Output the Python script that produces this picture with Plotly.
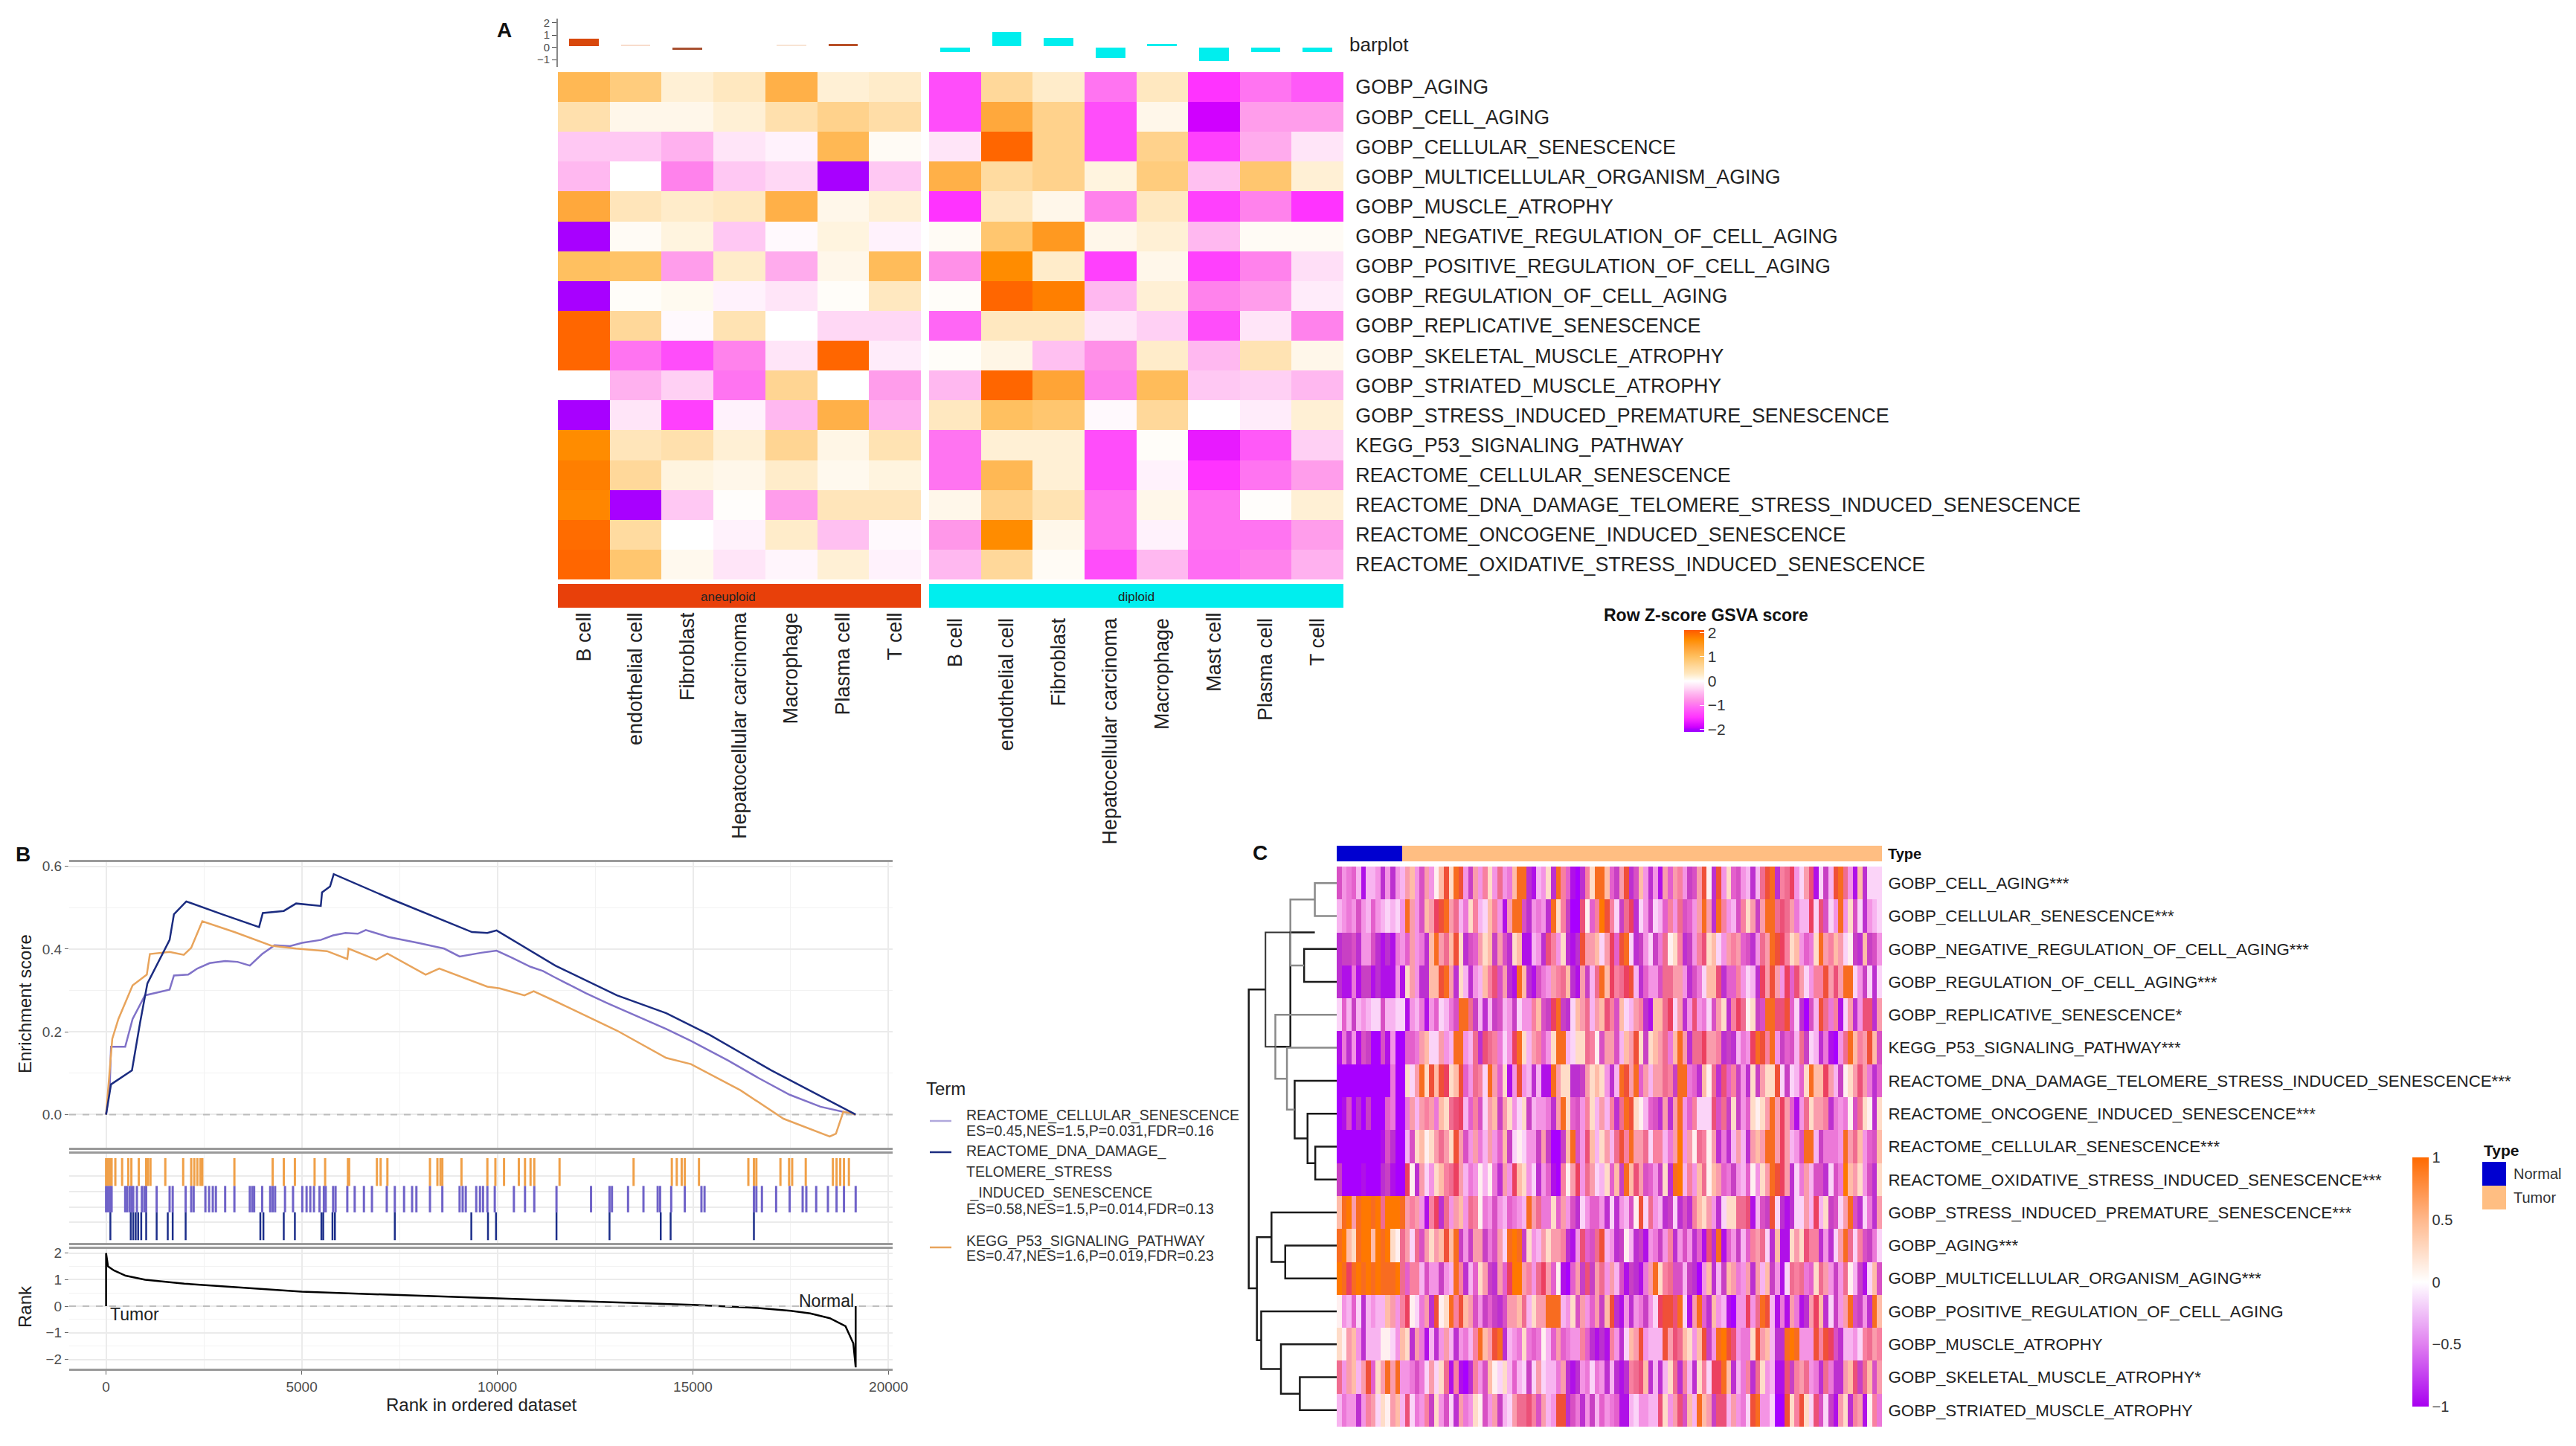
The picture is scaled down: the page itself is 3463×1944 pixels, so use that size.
import plotly.graph_objects as go

W, H = 3463, 1944
FONT = "Liberation Sans"

# ---------- Panel A data ----------
cells_aneu = ["B cell", "endothelial cell", "Fibroblast", "Hepatocellular carcinoma", "Macrophage", "Plasma cell", "T cell"]
cells_dip = ["B cell ", "endothelial cell ", "Fibroblast ", "Hepatocellular carcinoma ", "Macrophage ", "Mast cell", "Plasma cell ", "T cell "]
terms_a = ["GOBP_AGING", "GOBP_CELL_AGING", "GOBP_CELLULAR_SENESCENCE", "GOBP_MULTICELLULAR_ORGANISM_AGING",
           "GOBP_MUSCLE_ATROPHY", "GOBP_NEGATIVE_REGULATION_OF_CELL_AGING", "GOBP_POSITIVE_REGULATION_OF_CELL_AGING",
           "GOBP_REGULATION_OF_CELL_AGING", "GOBP_REPLICATIVE_SENESCENCE", "GOBP_SKELETAL_MUSCLE_ATROPHY",
           "GOBP_STRIATED_MUSCLE_ATROPHY", "GOBP_STRESS_INDUCED_PREMATURE_SENESCENCE", "KEGG_P53_SIGNALING_PATHWAY",
           "REACTOME_CELLULAR_SENESCENCE", "REACTOME_DNA_DAMAGE_TELOMERE_STRESS_INDUCED_SENESCENCE",
           "REACTOME_ONCOGENE_INDUCED_SENESCENCE", "REACTOME_OXIDATIVE_STRESS_INDUCED_SENESCENCE"]
z_aneu = [
    [1.1, .8, .2, .3, 1.2, .2, .25],
    [.45, .1, .1, .2, .45, .7, .5],
    [-.4, -.4, -.55, -.2, -.1, 1.1, .05],
    [-.5, 0, -.9, -.4, -.3, -2, -.4],
    [1.3, .35, .25, .3, 1.2, .1, .2],
    [-2, .05, .15, -.4, -.05, .15, -.1],
    [1, .95, -.7, .25, -.6, .1, 1.05],
    [-2, .03, .07, -.1, -.2, .03, .3],
    [2, .6, -.05, .4, 0, -.3, -.3],
    [2, -1, -1.3, -.9, -.2, 2, -.15],
    [0, -.55, -.35, -1, .65, 0, -.7],
    [-2, -.2, -1.4, -.1, -.5, 1.2, -.55],
    [1.7, .35, .45, .2, .65, .12, .4],
    [1.8, .6, .15, .1, .25, .08, .15],
    [1.75, -2, -.4, .02, -.7, .35, .35],
    [1.95, .55, 0, -.1, .25, -.45, -.05],
    [2, .9, .08, -.2, -.08, .2, -.1],
]
z_dip = [
    [-1.3, .6, .25, -1, .3, -1.5, -1, -1.2],
    [-1.3, 1.3, .7, -1.3, .1, -1.9, -.7, -.7],
    [-.2, 2, .7, -1.3, .7, -1.4, -.6, -.2],
    [1.2, .55, .7, .15, .8, -.45, .9, .2],
    [-1.5, .3, .1, -.9, .3, -1.4, -.9, -1.5],
    [.05, .9, 1.5, .1, .2, -.5, .05, .05],
    [-.8, 1.7, .25, -1.4, .1, -1.4, -.9, -.25],
    [.03, 2, 1.8, -.5, .2, -.9, -.7, -.15],
    [-1.1, .3, .3, -.2, -.35, -1.3, -.2, -.9],
    [.03, .12, -.45, -.8, .25, -.5, .4, .1],
    [-.5, 2, 1.35, -.9, 1.05, -.4, -.35, -.5],
    [.3, 1, .9, -.05, .6, 0, -.15, .2],
    [-1, .2, .2, -1.3, .03, -1.7, -1.2, -.35],
    [-1, 1.1, .2, -1.3, -.1, -1.5, -1, -.7],
    [.1, .7, .4, -1, .1, -1, .02, .2],
    [-.75, 1.7, .1, -1, -.1, -1, -1, -.7],
    [-.5, .6, .05, -1.3, -.5, -1.05, -.9, -.55],
]
bar_aneu_low = [.09, .1, -.2, 0, .1, .1, 0]
bar_aneu_span = [.63, .1, .17, 0, .1, .15, 0]
bar_aneu_col = ["#D8480C", "#F8DCCC", "#A85030", "#FFFFFF", "#F8E4D4", "#B85028", "#FFFFFF"]
bar_dip_low = [-.4, .1, .1, -.88, .12, -1.1, -.4, -.4]
bar_dip_span = [.4, 1.15, .68, .88, .13, 1.1, .4, .4]

# ---------- Panel B data ----------
purple_rank = [0, 95, 126, 489, 678, 994, 1624, 1735, 2097, 2334, 2649, 3044, 3359, 3674, 3990, 4305, 4700, 5015, 5488, 5803, 6119, 6434, 6639, 7223, 8011, 8642, 9036, 9588, 9982, 10377, 10850, 11165, 11481, 12269, 12821, 13531, 14319, 14950, 15896, 16685, 17473, 18262, 19160]
purple_es = [0, .069, .164, .164, .231, .288, .302, .336, .338, .353, .366, .371, .369, .36, .388, .409, .407, .415, .422, .433, .439, .437, .446, .429, .414, .401, .382, .391, .396, .379, .357, .347, .331, .293, .269, .24, .207, .178, .131, .088, .048, .019, 0]
navy_rank = [0, 63, 126, 662, 867, 1056, 1451, 1624, 1735, 2050, 2964, 3911, 4006, 4542, 4857, 5488, 5520, 5725, 5819, 7381, 9352, 9746, 9982, 11481, 13058, 14319, 15423, 17000, 19160]
navy_es = [0, .04, .073, .107, .221, .317, .389, .422, .484, .515, .484, .453, .487, .492, .51, .504, .537, .551, .581, .517, .441, .439, .445, .36, .288, .245, .193, .107, 0]
orange_rank = [0, 95, 158, 315, 678, 1041, 1120, 1624, 1987, 2176, 2460, 3280, 4227, 4857, 5646, 6166, 6198, 6907, 7191, 8169, 8516, 9746, 10062, 10693, 10930, 11481, 13058, 14319, 14950, 16212, 17316, 18498, 18656, 18845, 19160]
orange_es = [0, .107, .183, .231, .312, .338, .388, .393, .386, .403, .467, .441, .408, .401, .395, .376, .401, .374, .389, .338, .353, .309, .305, .288, .298, .274, .203, .137, .122, .059, -.01, -.053, -.046, .007, 0]
rug_orange = [0, 47, 95, 142, 237, 410, 568, 647, 836, 1025, 1072, 1135, 1514, 1971, 2176, 2255, 2334, 2413, 2460, 3280, 4258, 4542, 4826, 5330, 5599, 6182, 6213, 6923, 7018, 7191, 8279, 8469, 8547, 8595, 9084, 9746, 9951, 10172, 10550, 10708, 10850, 10945, 11591, 13484, 14461, 14587, 14713, 14792, 15155, 16417, 16559, 16622, 17237, 17458, 17537, 17884, 18578, 18672, 18766, 18861, 18987]
rug_purple = [0, 47, 95, 142, 489, 536, 599, 647, 694, 788, 915, 978, 1025, 1293, 1624, 1703, 2034, 2176, 2239, 2539, 2633, 2728, 2807, 3044, 3280, 3674, 3737, 3785, 3990, 4195, 4258, 4321, 4574, 4779, 5015, 5125, 5220, 5314, 5456, 5567, 5614, 5803, 5866, 6166, 6355, 6591, 6796, 7175, 7380, 7617, 7822, 7932, 8279, 8595, 9036, 9115, 9194, 9462, 9557, 9635, 9746, 9935, 10424, 10708, 10945, 11513, 12396, 12868, 12931, 13342, 13736, 14099, 14162, 14445, 14792, 15218, 15297, 16559, 16622, 16764, 17127, 17473, 17805, 17899, 18151, 18451, 18672, 18861, 19160]
rug_navy = [110, 631, 694, 757, 820, 899, 1025, 1293, 1577, 1703, 2034, 3943, 4022, 4542, 4826, 5504, 5551, 5787, 5850, 7380, 9336, 9762, 9967, 11513, 12868, 14177, 14430, 16559]
metric_rank = [0, 0, 50, 200, 500, 1000, 2000, 3000, 5000, 7500, 10000, 12500, 15000, 16500, 17500, 18000, 18500, 18900, 19100, 19160, 19160]
metric_val = [0, 2, 1.5, 1.35, 1.15, 1.0, .85, .75, .55, .42, .3, .17, .05, -.05, -.17, -.27, -.45, -.75, -1.4, -2.3, 0]

# ---------- Panel C data (tenths of the colour scale) ----------
terms_c = ["GOBP_CELL_AGING***", "GOBP_CELLULAR_SENESCENCE***", "GOBP_NEGATIVE_REGULATION_OF_CELL_AGING***",
           "GOBP_REGULATION_OF_CELL_AGING***", "GOBP_REPLICATIVE_SENESCENCE*", "KEGG_P53_SIGNALING_PATHWAY***",
           "REACTOME_DNA_DAMAGE_TELOMERE_STRESS_INDUCED_SENESCENCE***", "REACTOME_ONCOGENE_INDUCED_SENESCENCE***",
           "REACTOME_CELLULAR_SENESCENCE***", "REACTOME_OXIDATIVE_STRESS_INDUCED_SENESCENCE***",
           "GOBP_STRESS_INDUCED_PREMATURE_SENESCENCE***", "GOBP_AGING***", "GOBP_MULTICELLULAR_ORGANISM_AGING***",
           "GOBP_POSITIVE_REGULATION_OF_CELL_AGING", "GOBP_MUSCLE_ATROPHY", "GOBP_SKELETAL_MUSCLE_ATROPHY*",
           "GOBP_STRIATED_MUSCLE_ATROPHY"]
stripes_1 = [
    [-6,-3,-4,-5,-2,-9,-2,-2,-3,-8,-3,-8,-3,-2,3,2,-3,-6,3,-3,0,2,8,1,9,8,-3,-7],
    [-2,-3,-4,-3,-6,-3,-2,-5,-3,-2,-1,-2,-1,-3,9,3,-3,-6,2,3,7,8,9,3,5,-2,-4,1],
    [-8,-7,-7,-6,-8,-3,-3,-6,-8,-9,-8,-9,-4,-3,-5,3,-3,-4,-8,2,9,3,5,2,8,1,-8,-6],
    [-8,-9,-9,-4,-9,-7,-7,-9,-8,-9,-9,-9,-3,-9,1,3,-3,-8,-8,2,2,8,9,3,-8,1,-2,-8],
    [-1,-5,-2,-7,-2,-3,-2,-1,-1,-6,-2,-2,-1,-1,-9,-3,-2,-4,-9,-3,-5,-1,-2,-4,-6,9,9,5],
    [-9,-4,-8,-3,-9,-6,-7,-10,-10,-6,-9,-3,-10,-10,-5,-5,-4,3,2,-1,-1,3,-3,-2,9,9,-3,-2],
    [-10,-10,-10,-10,-10,-10,-10,-10,-10,-10,-10,-4,-10,-10,1,-1,3,9,1,8,2,8,7,1,2,8,-5,-3],
    [-10,-9,-6,-10,-8,-10,-7,-10,-10,-10,-5,-4,-10,-10,-4,3,-2,3,4,3,-4,2,1,5,6,7,-2,-5],
    [-10,-10,-10,-10,-10,-10,-10,-10,-10,-9,-6,-8,-10,-10,-2,-6,1,2,0,1,3,5,3,1,8,3,-6,-3],
    [-7,-10,-10,-10,-10,-9,-10,-10,-10,-8,-7,-9,-10,-10,7,0,-8,3,-1,-3,1,2,4,5,7,3,-2,-4],
    [2,9,10,3,9,10,10,9,10,5,10,10,10,9,3,4,3,-3,-9,4,7,-8,5,-3,3,2,-3,5],
    [9,10,2,1,9,10,10,2,10,9,10,1,0,5,3,-1,5,-6,3,1,3,2,8,2,9,-7,-3,-7],
    [10,9,7,9,10,9,10,9,10,9,9,9,10,5,-5,4,4,-2,-6,-3,-3,-7,-3,-2,9,4,-8,-2],
    [0,-3,-2,-5,-1,-8,-2,-3,-2,-2,2,3,-3,4,7,0,-1,-4,3,-8,8,0,1,9,4,8,2,3],
    [1,0,3,2,-3,-8,-2,-2,-2,0,0,-1,-3,2,1,-8,3,-4,-9,-2,-8,-3,3,-2,-8,-3,-4,-2],
    [5,-3,3,2,-2,3,8,-5,1,3,9,3,9,-3,-3,-4,-6,-4,-1,3,-1,1,5,-9,4,-9,-10,-8],
    [-2,-4,-3,-3,-8,-3,4,3,-1,1,0,3,2,-2,6,-1,-4,-3,4,-7,1,-3,-6,-1,-8,3,-4,-3],
]
stripes_2 = [
    [3,-3,4,1,-3,5,-3,-4,2,9,9,-8,-9,-2,-3,1,-8,9,4,-5,-9,-10,-8,4,1,9,9,2],
    [4,-2,-1,2,4,-3,-9,3,9,9,-6,-8,-3,-4,-3,-8,9,1,4,-7,-10,-10,6,0,-5,4,10,8],
    [-5,3,1,2,-7,3,-6,-8,1,2,-9,-9,-2,-3,-8,6,4,-3,1,-8,-9,-8,8,3,3,2,-1,3],
    [-3,-2,2,4,6,-6,3,-8,-9,9,2,-8,-9,-6,-4,-3,3,4,5,2,-8,-9,3,-7,-2,5,9,2],
    [-7,-2,-8,-2,-7,-6,-2,-3,-7,-1,-3,-3,4,2,-6,-7,7,9,-7,-8,-1,2,3,5,-2,3,2,6],
    [5,-8,6,5,4,-4,-1,-3,7,9,1,-2,3,4,-5,-3,1,9,9,-2,-1,1,1,5,4,0,-6,3],
    [5,4,-1,9,3,-5,1,-9,-3,8,-3,-2,-8,-2,-9,-9,9,3,1,1,-8,-8,-7,3,1,2,1,-3],
    [4,-6,-1,3,2,-7,3,1,-3,-1,1,-7,-2,-3,-3,-4,-8,3,9,1,-5,-6,-3,4,1,-2,3,-2],
    [3,-4,-2,3,-3,-5,2,-7,-1,0,-1,-3,-3,-7,3,-7,-10,-10,-7,2,9,-6,-3,6,2,-2,1,3],
    [-3,0,-2,0,-4,-8,3,-3,7,2,1,-3,-1,-8,-3,-5,-9,-10,4,0,3,7,-3,5,3,-1,-2,1],
    [4,0,-4,-3,-6,-3,-2,-5,-4,-3,-2,9,3,5,-4,-4,1,-5,3,-3,-6,-8,-1,-3,-5,-5,-3,-8],
    [3,3,-7,-4,-6,3,-1,9,10,9,-7,1,-3,-2,3,1,3,3,4,-8,-9,-3,6,-5,-6,5,8,-2],
    [-5,1,3,-7,-8,3,-5,7,10,10,3,4,-3,5,7,3,-5,0,-9,-10,-5,3,-7,6,-7,3,5,-3],
    [-6,-3,-7,-5,-7,-8,-6,3,3,2,5,-2,1,3,3,9,9,9,-2,-3,1,-6,3,-3,-5,3,-7,2],
    [4,9,2,3,8,9,-8,-2,-3,-4,1,-4,-5,-4,0,-2,-5,3,-5,-4,-3,-3,4,-5,-8,-9,-8,-9],
    [4,-3,-6,2,0,-1,1,-2,-5,-2,-1,-7,-1,3,-1,-2,-2,-4,3,-8,-9,-8,-3,-4,-1,-4,-3,-8],
    [1,0,-6,-3,3,-7,-2,-1,3,5,5,6,4,-6,3,-2,-3,8,8,-8,-6,-4,-8,-3,-7,-2,-5,-3],
]
stripes_3 = [
    [-5,-7,3,8,-8,-6,2,-3,-8,-3,-9,3,-5,3,4,-3,-7,-6,3,8,0,-8,8,-3,1,-5,-6,-3],
    [4,-1,-7,5,7,-8,-1,-3,-7,-1,-2,-5,4,-3,5,-6,-5,-3,3,9,3,-8,9,4,-3,-2,-6,4],
    [7,-5,8,9,-1,-8,-7,-3,-1,-7,-4,5,0,1,4,-8,-7,-3,4,6,1,2,-1,-3,3,4,3,-5],
    [7,4,5,7,8,-2,-8,-5,-3,-3,-6,5,5,3,3,-3,-8,-6,-4,-1,2,2,6,-8,-5,-5,4,-3],
    [4,-6,2,-1,-2,3,4,-8,-9,2,2,5,7,-1,3,-8,-3,6,-3,-4,-1,-6,3,1,-8,4,7,5],
    [3,-6,-2,2,3,8,1,-7,1,2,3,5,-4,2,9,3,-8,5,5,7,3,3,4,-8,-7,-8,-2,-4],
    [-8,-2,9,8,3,9,-5,3,-2,3,3,5,4,-7,9,9,-4,-5,-8,2,0,5,-8,6,-5,4,-7,-3],
    [4,-8,5,9,8,1,0,-2,-5,-6,-8,3,-8,3,9,-3,-5,4,-1,-1,-1,6,-6,5,-7,1,-7,-3],
    [-2,5,8,4,9,3,3,5,-1,4,4,-2,-4,3,10,-3,3,0,5,4,0,3,-8,-4,-8,-2,3,-2],
    [-5,2,-7,9,2,6,3,-6,-5,-3,-7,1,-8,9,10,-2,4,-3,2,5,0,2,3,-5,-4,-7,-3,-2],
    [-1,-8,-3,-2,-6,0,8,-1,5,-3,-2,-8,-7,-1,-8,-6,-8,4,2,1,3,-3,-8,-1,1,1,5,5],
    [-3,-8,-7,0,-2,-8,-7,-9,-3,-4,-7,-3,4,-8,-3,-6,-3,-8,-5,-9,6,-8,9,-9,-5,-3,-7,-2],
    [3,-2,-6,-9,-7,-8,-9,-4,3,9,1,4,5,-6,-6,-2,-7,-8,-10,-3,2,-8,-2,-7,2,3,-4,-3],
    [8,-8,-9,-3,-8,-3,-4,-7,-3,-1,7,8,8,6,9,-1,-9,3,9,-5,-8,2,-3,-2,-9,-10,-3,-3],
    [4,-3,-8,-1,2,3,8,-3,-2,-2,-2,8,3,6,5,2,1,-3,2,8,-7,-3,9,10,8,6,-3,-4],
    [-2,-8,-9,-8,4,5,6,2,-8,-2,-8,-2,1,5,-8,4,-2,-8,1,4,-1,7,7,9,2,-8,-2,-4],
    [-4,-5,-9,-9,-2,-1,-3,-3,-2,-2,6,1,-3,3,6,-6,2,-2,9,2,3,-7,6,6,-2,3,-3,-4],
]
stripes_4 = [
    [-2,-8,-2,5,8,9,-8,4,5,7,-3,-1,3,6,-9,-1,-7,-2,8,9,5,-3,-9,2,-8,-1,-1,-1],
    [1,3,-7,3,9,9,5,6,5,3,-4,-2,-2,7,-1,6,-6,-1,-3,9,-3,1,-6,-1,-8,-3,-2,-1],
    [-6,-8,-3,5,3,9,8,7,4,1,2,-3,-5,-4,1,9,3,4,2,3,-1,0,-7,-8,2,-7,-6,-3],
    [-1,-2,-8,7,3,8,3,-3,7,-5,6,3,-1,-3,4,4,8,3,6,3,9,9,-1,-3,-7,-1,-8,-1],
    [0,1,-7,-6,9,9,6,6,8,-5,-1,-8,-10,-6,-2,8,5,-4,4,-9,-1,3,-8,-3,6,6,-8,3],
    [-3,7,9,8,4,9,-3,-7,-5,-6,-2,5,-7,-1,-2,-8,-4,-9,-10,-3,5,9,2,4,3,8,2,-6],
    [-8,1,-7,3,1,1,8,-1,-7,-1,-2,-5,1,9,2,2,7,3,-2,-7,0,1,3,6,3,-4,-8,-5],
    [-5,1,0,1,3,9,3,7,3,-5,-9,-3,5,1,3,3,4,-8,-4,-3,-4,0,-6,5,1,0,-8,1],
    [-8,3,2,3,9,9,3,7,3,-2,-3,-6,9,9,-2,-7,-4,-4,-4,-3,9,3,5,2,-3,-5,-6,2],
    [-5,0,-3,1,3,9,8,7,3,-8,-1,-4,3,-2,-6,-6,-8,-1,-6,-4,10,2,3,1,-3,-6,-8,1],
    [6,-9,-2,-6,-7,8,-1,-8,-9,-8,-1,-1,3,-2,7,-2,1,-7,-6,-1,3,9,-6,-8,-1,-4,-8,3],
    [-5,4,3,5,-1,-8,2,-9,-9,1,3,1,6,4,4,-8,-3,-8,-1,3,9,5,-1,4,-6,-7,-4,-1],
    [3,-8,3,-2,2,-7,-3,-9,-1,5,4,5,-4,-5,1,5,3,-3,-7,-3,5,0,-2,-7,-9,-1,2,-6],
    [7,-3,5,9,8,-2,-9,-4,-9,3,-4,-9,-8,3,7,2,-8,-1,-7,-3,3,9,-6,-7,-3,-8,9,2],
    [-4,1,8,3,2,-2,-8,-8,9,10,9,-3,-3,-3,8,4,8,7,-6,-8,-2,-2,-3,-1,4,5,3,4],
    [4,-8,5,1,-3,-2,-9,-9,6,-7,4,3,5,-3,-4,-8,5,-4,-8,-8,3,2,6,-7,5,2,-6,3],
    [-1,8,9,-3,-3,-1,-10,-10,8,1,4,8,1,-1,6,-6,-1,-7,-9,3,1,-8,4,3,-9,0,4,-4],
]

z_c = [[v / 10 for v in a + b + c + d] for a, b, c, d in zip(stripes_1, stripes_2, stripes_3, stripes_4)]
type_edges = [0, 13.45, 112]
# dendrogram links: height of the merge, upper child row, its height, lower child row, its height
dendro_black = [
    [76, 2, 0, 3, 0], [108, 1.5, 51, 4.97, 143], [120, 11, 0, 12, 0], [152, 10, 0, 11.5, 120],
    [98, 6, 0, 7.75, 68], [68, 7, 0, 8.5, 50], [50, 8, 0, 9, 0], [130, 14, 0, 15.5, 86],
    [86, 15, 0, 16, 0], [176, 13, 0, 14.75, 130], [186, 10.75, 152, 13.875, 176], [205, 3.23, 166, 12.3, 186],
]
dendro_gray = [
    [51, 0, 0, 1, 0], [108, 0.5, 51, 2.5, 76], [143, 4, 0, 5.94, 116], [116, 5, 0, 6.875, 98],
]
dendro_gray2 = [[166, 1.5, 108, 4.97, 143]]


def xd(a, b):
    return [a / W, b / W]


def yd(a, b):
    return [1 - b / H, 1 - a / H]


cs_a_pts = [(-2.1, "#A000FF"), (-2, "#A800FF"), (-1.9, "#D000FF"), (-1.5, "#FF33FF"), (-1.1, "#FF66F5"), (-.8, "#FF90E8"),
            (-.5, "#FFB8F0"), (-.3, "#FFD8F5"), (0, "#FFFFFF"), (.3, "#FFE8C0"), (.6, "#FFD89A"), (1, "#FFC060"),
            (1.4, "#FFA030"), (1.7, "#FF8C00"), (2, "#FF6600"), (2.1, "#FF5A00")]
cs_a = [[(v + 2.1) / 4.2, c] for v, c in cs_a_pts]
cs_c_pts = [(-1, "#A800FF"), (-.9, "#B010E8"), (-.8, "#BC30D0"), (-.7, "#C840C4"), (-.6, "#D850C4"), (-.5, "#E460CC"),
            (-.4, "#EC78D8"), (-.3, "#F494E4"), (-.2, "#F8B4F0"), (-.1, "#FBD4F8"), (0, "#FFF0F0"), (.1, "#FFDCC8"),
            (.2, "#FFBCA8"), (.3, "#FA9CAC"), (.4, "#F880A0"), (.5, "#F06C90"), (.6, "#EC5078"), (.7, "#EC4060"),
            (.8, "#F05038"), (.9, "#F86C20"), (1, "#FF7800")]
cs_c = [[(v + 1) / 2, c] for v, c in cs_c_pts]
cs_c_legend = [[0, "#A800F0"], [.25, "#E080F0"], [.5, "#FFFFFF"], [.75, "#FFB88C"], [1, "#FF6A00"]]
GRAY = "#4d4d4d"

fig = go.Figure()

# A heatmaps, bars and strips
fig.add_trace(go.Heatmap(z=z_aneu, x=cells_aneu, y=terms_a, xaxis="x", yaxis="y", zmin=-2.1, zmax=2.1, colorscale=cs_a,
                         colorbar=dict(x=2264 / W, xanchor="left", y=1 - 847 / H, yanchor="top", thickness=27,
                                       lenmode="pixels", len=137, xpad=0, ypad=0, outlinewidth=0,
                                       tickvals=[-2, -1, 0, 1, 2], ticks="inside", ticklen=6, tickcolor="#FFFFFF",
                                       tickfont=dict(size=21, color="#333", family=FONT))))
fig.add_trace(go.Heatmap(z=z_dip, x=cells_dip, y=terms_a, xaxis="x2", yaxis="y", zmin=-2.1, zmax=2.1, colorscale=cs_a, showscale=False))
fig.add_trace(go.Bar(x=cells_aneu, y=bar_aneu_span, base=bar_aneu_low, xaxis="x", yaxis="y2", width=.57, marker=dict(color=bar_aneu_col, line=dict(width=0))))
fig.add_trace(go.Bar(x=cells_dip, y=bar_dip_span, base=bar_dip_low, xaxis="x2", yaxis="y2", width=.57, marker=dict(color="#00EEEE", line=dict(width=0))))
fig.add_trace(go.Heatmap(z=[[0] * 7], x=cells_aneu, y=["aneuploid"], xaxis="x", yaxis="y3", colorscale=[[0, "#E8400A"], [1, "#E8400A"]], showscale=False))
fig.add_trace(go.Heatmap(z=[[0] * 8], x=cells_dip, y=["diploid"], xaxis="x2", yaxis="y4", colorscale=[[0, "#00EEEE"], [1, "#00EEEE"]], showscale=False))


# B lines
def rug(ranks, lo, hi):
    xs, ys = [], []
    for r in ranks:
        xs += [r, r, None]
        ys += [lo, hi, None]
    return xs, ys


C_P, C_N, C_O = "#8072C8", "#1B2C80", "#E8A45C"
fig.add_trace(go.Scatter(x=purple_rank, y=purple_es, mode="lines", line=dict(color=C_P, width=2.5), xaxis="x3", yaxis="y5"))
fig.add_trace(go.Scatter(x=orange_rank, y=orange_es, mode="lines", line=dict(color=C_O, width=2.5), xaxis="x3", yaxis="y5"))
fig.add_trace(go.Scatter(x=navy_rank, y=navy_es, mode="lines", line=dict(color=C_N, width=2.5), xaxis="x3", yaxis="y5"))
for ranks, lo, hi, c, w in ((rug_orange, 2.05, 3.05, "#F0A048", 3), (rug_purple, 1.1, 2.05, "#6F62C8", 3), (rug_navy, .1, 1.1, "#1C2E8A", 2.5)):
    xs, ys = rug(ranks, lo, hi)
    fig.add_trace(go.Scatter(x=xs, y=ys, mode="lines", line=dict(color=c, width=w), xaxis="x4", yaxis="y6"))
fig.add_trace(go.Scatter(x=metric_rank, y=metric_val, mode="lines", line=dict(color="#000000", width=2.5), xaxis="x5", yaxis="y7"))

# C heat, strip, dendrogram, legends
xc = [i + .5 for i in range(112)]
yc = list(range(17))
fig.add_trace(go.Heatmap(z=z_c, x=xc, y=yc, xaxis="x6", yaxis="y8", zmin=-1, zmax=1, colorscale=cs_c, showscale=False))
fig.add_trace(go.Heatmap(z=[[0, 1]], x=type_edges, y=[0], xaxis="x6", yaxis="y9", zmin=0, zmax=1,
                         colorscale=[[0, "#0000D0"], [.5, "#0000D0"], [.5, "#FFBE82"], [1, "#FFBE82"]], showscale=False))
# carrier of the C colour bar, outside the visible x range
fig.add_trace(go.Heatmap(z=[[-1, 1]], x=[-60, -50], y=[0], xaxis="x6", yaxis="y8", zmin=-1, zmax=1, colorscale=cs_c_legend,
                         colorbar=dict(x=3243 / W, xanchor="left", y=1 - 1556 / H, yanchor="top", thickness=22,
                                       lenmode="pixels", len=335, xpad=0, ypad=0, outlinewidth=0,
                                       tickvals=[-1, -.5, 0, .5, 1], ticktext=["−1", "−0.5", "0", "0.5", "1"], ticks="",
                                       tickfont=dict(size=20, color="#333", family=FONT))))


def dendro(links, color, width):
    xs, ys = [], []
    for h, y1, x1, y2, x2 in links:
        xs += [x1, h, h, x2, None]
        ys += [y1, y1, y2, y2, None]
    fig.add_trace(go.Scatter(x=xs, y=ys, mode="lines", line=dict(color=color, width=width), xaxis="x7", yaxis="y8"))


dendro(dendro_black, "#1a1a1a", 2.5)
dendro(dendro_gray, "#8a8a8a", 2.5)
dendro(dendro_gray2, "#333333", 2)
fig.add_trace(go.Heatmap(z=[[0], [1]], x=[0], y=["Normal", "Tumor"], xaxis="x8", yaxis="y10", zmin=0, zmax=1,
                         colorscale=[[0, "#0000D0"], [.5, "#0000D0"], [.5, "#FFBE82"], [1, "#FFBE82"]], showscale=False))

grid = dict(showgrid=True, gridcolor="#ebebeb", gridwidth=2, zeroline=False)
frame = dict(showline=True, mirror=True, linecolor="#9a9a9a", linewidth=3)
xr = [-943, 20105]
xticks = [0, 5000, 10000, 15000, 20000]
xminor = dict(tickvals=[2500, 7500, 12500, 17500], showgrid=True, gridcolor="#f2f2f2", gridwidth=1, ticks="")
rowlab = dict(size=26.8, color="#222", family=FONT)
collab = dict(size=27, color="#222", family=FONT)

fig.update_layout(
    width=W, height=H, autosize=False, template="none", margin=dict(l=0, r=0, t=0, b=0), showlegend=False,
    paper_bgcolor="white", plot_bgcolor="white", font=dict(family=FONT), hovermode=False, bargap=0,
    xaxis=dict(domain=xd(750, 1238), anchor="y3", type="category", categoryorder="array", categoryarray=cells_aneu, range=[-.5, 6.5],
               tickangle=-90, ticks="", tickfont=collab, showgrid=False, zeroline=False),
    xaxis2=dict(domain=xd(1249, 1806), anchor="y4", type="category", categoryorder="array", categoryarray=cells_dip, range=[-.5, 7.5],
                tickangle=-90, ticks="", tickfont=collab, showgrid=False, zeroline=False),
    yaxis=dict(domain=yd(97, 779), anchor="x2", side="right", type="category", categoryorder="array", categoryarray=terms_a,
               range=[16.5, -.5], ticks="outside", ticklen=10, tickcolor="white", tickfont=rowlab, showgrid=False, zeroline=False),
    yaxis2=dict(domain=yd(25, 90), anchor="x", side="left", range=[-1.6, 2.34], tickvals=[-1, 0, 1, 2], ticks="outside", ticklen=6,
                tickfont=dict(size=15, color=GRAY, family=FONT), showline=True, linecolor="#888", linewidth=2, showgrid=False, zeroline=False),
    yaxis3=dict(domain=yd(785, 817), anchor="x", visible=False),
    yaxis4=dict(domain=yd(785, 817), anchor="x2", visible=False),
    # B
    xaxis3=dict(domain=xd(93, 1200), anchor="y5", range=xr, tickvals=xticks, showticklabels=False, ticks="", minor=xminor, **grid, **frame),
    yaxis5=dict(domain=yd(1159, 1543), anchor="x3", range=[-.08, .61], tickvals=[0, .2, .4, .6], ticktext=["0.0", "0.2", "0.4", "0.6"],
                ticks="outside", ticklen=5, tickcolor="#666", tickfont=dict(size=19, color=GRAY, family=FONT),
                minor=dict(tickvals=[.1, .3, .5], showgrid=True, gridcolor="#f2f2f2", gridwidth=1, ticks=""), **grid),
    xaxis4=dict(domain=xd(93, 1200), anchor="y6", range=xr, tickvals=xticks, showticklabels=False, ticks="", minor=xminor, **grid, **frame),
    yaxis6=dict(domain=yd(1551, 1671), anchor="x4", range=[0, 3.21], tickvals=[.74, 1.29, 1.85, 2.4], showticklabels=False, ticks="", **grid),
    xaxis5=dict(domain=xd(93, 1200), anchor="y7", range=xr, tickvals=xticks, ticktext=["0", "5000", "10000", "15000", "20000"],
                ticks="outside", ticklen=5, tickcolor="#666", tickfont=dict(size=19, color=GRAY, family=FONT), minor=xminor, **grid, **frame),
    yaxis7=dict(domain=yd(1679, 1840), anchor="x5", range=[-2.35, 2.16], tickvals=[-2, -1, 0, 1, 2], ticks="outside", ticklen=5, tickcolor="#666",
                tickfont=dict(size=19, color=GRAY, family=FONT),
                minor=dict(tickvals=[-1.5, -.5, .5, 1.5], showgrid=True, gridcolor="#f2f2f2", gridwidth=1, ticks=""), **grid),
    # C
    xaxis6=dict(domain=xd(1797, 2530), anchor="y8", range=[0, 112], visible=False),
    yaxis8=dict(domain=yd(1165, 1918), anchor="x6", side="right", range=[16.5, -.5], tickvals=yc, ticktext=terms_c, ticks="outside", ticklen=3,
                tickcolor="white", tickfont=dict(size=22.3, color="#222", family=FONT), showgrid=False, zeroline=False),
    yaxis9=dict(domain=yd(1137, 1158), anchor="x6", side="right", range=[-.5, .5], tickvals=[0], ticktext=["<b>Type</b>"], ticks="outside", ticklen=3,
                tickcolor="white", tickfont=dict(size=20, color="#111", family=FONT), showgrid=False, zeroline=False),
    xaxis7=dict(domain=xd(1677, 1797), anchor="y8", range=[208, 0], visible=False),
    xaxis8=dict(domain=xd(3337, 3369), anchor="y10", visible=False),
    yaxis10=dict(domain=yd(1562, 1626), anchor="x8", side="right", range=[1.5, -.5], type="category", categoryorder="array", categoryarray=["Normal", "Tumor"],
                 ticks="outside", ticklen=5, tickcolor="white", tickfont=dict(size=20, color="#333", family=FONT), showgrid=False, zeroline=False),
)

shapes = [
    dict(type="line", xref="x3", yref="y5", x0=xr[0], x1=xr[1], y0=0, y1=0, line=dict(color="#bdbdbd", width=2, dash="dash")),
    dict(type="line", xref="x5", yref="y7", x0=xr[0], x1=xr[1], y0=0, y1=0, line=dict(color="#bdbdbd", width=2, dash="dash")),
]
for py, c in ((1507, "#B0A8DC"), (1549, C_N), (1677, C_O)):
    shapes.append(dict(type="line", xref="paper", yref="paper", x0=1250 / W, x1=1279 / W, y0=1 - py / H, y1=1 - py / H, line=dict(color=c, width=2.5)))
fig.update_layout(shapes=shapes)


def ann(x, y, text, size=20, color="#222", xa="left", angle=0):
    fig.add_annotation(x=x / W, y=1 - y / H, xref="paper", yref="paper", text=text, showarrow=False, xanchor=xa, yanchor="middle",
                       textangle=angle, font=dict(size=size, color=color, family=FONT), align="left")


ann(678, 40, "<b>A</b>", 28, "#111", "center")
ann(31, 1148, "<b>B</b>", 28, "#111", "center")
ann(1694, 1146, "<b>C</b>", 28, "#111", "center")
ann(1812, 60, "barplot", 26)
ann(979, 802, "aneuploid", 17, "#222", "center")
ann(1527, 802, "diploid", 17, "#222", "center")
ann(2293, 827, "<b>Row Z-score GSVA score</b>", 23, "#111", "center")
ann(33, 1350, "Enrichment score", 24, "#222", "center", -90)
ann(33, 1757, "Rank", 24, "#222", "center", -90)
ann(647, 1888, "Rank in ordered dataset", 24, "#222", "center")
ann(146, 1767, "Tumor", 23)
ann(1150, 1749, "Normal", 23, "#222", "right")
ann(1243, 1463, "Term", 24, "#222")
legend_lines = [(1499, "REACTOME_CELLULAR_SENESCENCE"), (1520, "ES=0.45,NES=1.5,P=0.031,FDR=0.16"),
                (1547, "REACTOME_DNA_DAMAGE_"), (1575, "TELOMERE_STRESS"), (1603, " _INDUCED_SENESCENCE"),
                (1625, "ES=0.58,NES=1.5,P=0.014,FDR=0.13"), (1668, "KEGG_P53_SIGNALING_PATHWAY"),
                (1688, "ES=0.47,NES=1.6,P=0.019,FDR=0.23")]
for py, t in legend_lines:
    ann(1297, py, t, 19.5, "#333")
ann(3337, 1546, "<b>Type</b>", 21, "#111")

fig.write_html("out.html", post_script="document.body.style.margin='0';", config=dict(displayModeBar=False))
